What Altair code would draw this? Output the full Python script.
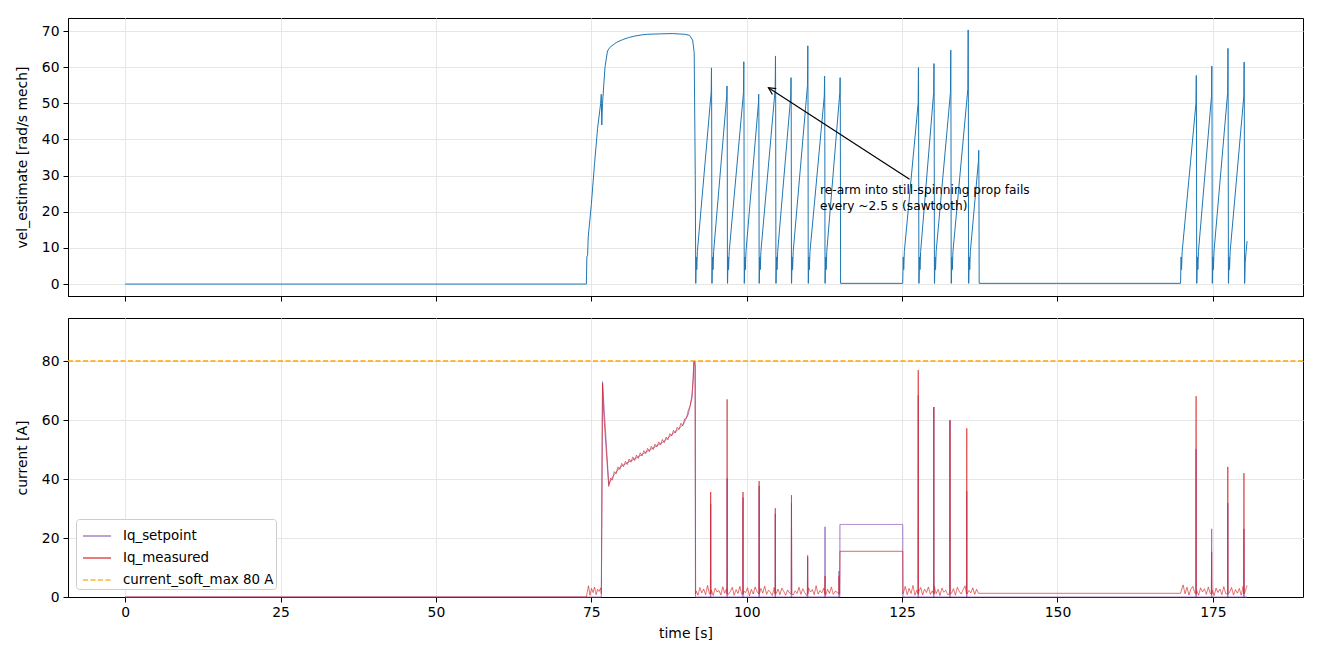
import numpy as np
import pandas as pd
import altair as alt

alt.data_transformers.disable_max_rows()

FONT = "DejaVu Sans"

# -----------------------------
# Top panel: vel_estimate
# -----------------------------
# spin-up and plateau
vel_t = [0, 74.2, 74.28, 74.4, 74.5, 75.0, 75.5, 76.0, 76.5, 76.6, 76.68, 76.8, 77.2, 77.6,
         78.0, 79.0, 80.0, 81.0, 82.0, 83.0, 84.0, 86.0, 88.0, 90.0, 90.8, 91.3, 91.55, 91.72]
vel_v = [0, 0, 7.5, 8.0, 13.0, 22.0, 33.0, 43.0, 50.0, 52.5, 44.0, 50.0, 60.0, 64.5,
         65.5, 66.8, 67.6, 68.2, 68.6, 68.9, 69.1, 69.2, 69.3, 69.1, 68.8, 67.5, 64.0, 30.0]

# sawtooth teeth: start, reset, ramp top, spike peak
tooth_start = [91.8, 94.42, 96.92, 99.62, 102.02, 104.72, 107.22, 109.92, 112.62,
               125.1, 127.72, 130.22, 132.92, 135.72,
               169.8, 172.42, 174.92, 177.52]
tooth_end = [94.4, 96.9, 99.6, 102.0, 104.7, 107.2, 109.9, 112.6, 115.1,
             127.7, 130.2, 132.9, 135.7, 137.4,
             172.4, 174.9, 177.5, 180.1]
tooth_top = [53, 52, 53, 50, 54, 52, 55, 52, 53,
             50, 53, 53, 54, 34,
             50, 52, 53, 52]
tooth_peak = [59.8, 54.8, 61.5, 52.5, 63.1, 57.1, 65.9, 57.5, 57.1,
              59.9, 61.0, 64.7, 70.3, 37.0,
              57.7, 60.3, 65.2, 61.4]

vel_tail_t = [180.12, 180.2, 180.35, 180.5]
vel_tail_v = [0.2, 6.0, 9.0, 11.9]

# -----------------------------
# Bottom panel: currents
# -----------------------------
sp_t = [0, 76.6, 76.8, 77.8, 78.5, 79.6, 81.0, 82.3, 83.5, 85.0, 86.5, 87.7, 88.8, 89.8,
        90.6, 91.2, 91.5, 91.7, 91.75, 114.97, 115.0, 125.1, 125.13, 180.5]
sp_v = [0, 0, 73.0, 38.2, 41.0, 44.0, 45.8, 47.2, 48.8, 50.6, 52.5, 54.6, 56.5, 58.5,
        62.0, 67.6, 79.4, 80.0, 0, 0, 24.6, 24.6, 0, 0]

spike_t = [94.2, 96.85, 99.4, 102.0, 104.6, 107.2, 109.8, 112.6, 114.85,
           127.6, 130.1, 132.7, 135.4, 172.3, 174.8, 177.4, 180.0]
spike_sp = [31.6, 40.2, 33.7, 37.6, 28.2, 31.8, 13.4, 23.8, 8.8,
            68.4, 64.4, 59.9, 35.9, 50.1, 23.1, 31.8, 23.1]
spike_ms = [35.6, 67.0, 35.6, 39.3, 30.1, 34.5, 14.1, 7.1, 7.0,
            76.9, 64.4, 59.9, 57.2, 68.1, 15.3, 44.1, 42.0]

ms_t = [0, 74.2, 76.62, 76.8, 77.0, 91.4, 91.5, 91.7, 91.78,
        114.95, 115.0, 125.1, 125.13, 137.4, 169.8]
ms_v = [0, 0, 1.0, 72.5, 62.0, 74.0, 80.0, 78.5, 1.0,
        1.0, 15.5, 15.5, 1.0, 1.25, 1.25]

# measured noise, read as samples over each segment
noise_a = [1.2, 3.8, 0.6, 2.9, 1.5, 3.4, 0.8, 2.6, 1.9, 3.1]
ramp_ms = [37.5, 40.3, 39.6, 42.5, 41.8, 44.1, 43.2, 45.3, 44.2, 46.0,
           44.9, 46.8, 45.7, 47.5, 46.3, 48.1, 47.0, 48.9, 47.8, 49.6,
           48.6, 50.4, 49.3, 51.1, 50.0, 51.8, 50.9, 52.6, 51.6, 53.4,
           52.3, 54.2, 53.3, 55.4, 54.6, 56.5, 55.6, 57.6, 56.8, 58.9,
           58.0, 60.4, 60.7, 63.3, 64.9, 68.5]
noise_b = [2.1, 0.6, 3.2, 1.4, 2.7, 0.8, 3.9, 1.1, 2.4, 0.5,
           3.0, 1.7, 2.2, 0.7, 3.5, 1.3, 2.8, 0.9, 1.9, 3.3,
           0.6, 2.5, 1.2, 3.6, 0.8, 2.0, 1.5, 3.1, 0.4, 2.6,
           1.0, 3.4, 1.8, 0.7, 2.9, 1.3, 3.7, 0.9, 2.3, 1.6,
           0.5, 3.2, 1.1, 2.7, 0.8, 3.0, 1.9, 0.6, 2.4, 1.4,
           3.5, 0.7, 2.1, 1.2, 3.3, 0.9, 2.8, 1.5, 0.5, 3.1,
           1.7, 2.5, 0.8, 3.8, 1.0, 2.2, 1.4, 3.0, 0.6, 2.6,
           1.2, 3.4, 0.9, 2.0, 1.6, 2.9]
noise_c = [1.4, 3.6, 0.8, 2.9, 1.2, 3.9, 0.6, 2.4, 1.8, 3.2,
           0.7, 2.7, 1.5, 3.4, 0.9, 2.1, 3.7, 1.1, 2.6, 0.5,
           3.0, 1.6, 2.3, 0.8, 3.5, 1.3, 2.8, 0.6, 3.3, 1.9,
           1.0, 2.5, 3.8, 0.7, 2.2, 1.4, 3.1, 0.9, 2.6, 1.2]
noise_d = [2.0, 4.1, 1.1, 3.3, 0.7, 2.6, 3.6, 1.4, 2.2, 0.6,
           3.1, 1.7, 2.8, 0.9, 3.4, 1.2, 2.4, 0.5, 3.0, 1.5,
           2.7, 0.8, 3.5, 1.1, 2.1, 1.6, 3.2, 0.7, 2.5, 1.3,
           2.9, 0.6, 3.7, 1.8, 3.9]
noise_spans = [(74.3, 76.5, noise_a), (77.8, 91.2, ramp_ms), (91.85, 114.85, noise_b),
               (125.2, 137.3, noise_c), (169.9, 180.5, noise_d)]

SERIES = ["Iq_setpoint", "Iq_measured", "current_soft_max 80 A"]
SERIES_COLORS = ["#9467bd", "#d62728", "#ffa500"]
SOFT_MAX = 80

X_TICKS = [0, 25, 50, 75, 100, 125, 150, 175]


# -----------------------------
# Helpers
# -----------------------------
def _tooth(t0, t1, top, peak):
    return [(t0, 0.2), (t0 + 0.08, 7.5), (t0 + 0.16, 4.0), (t0 + 0.26, 9.0),
            (t1 - 0.12, top), (t1 - 0.07, peak), (t1 - 0.04, top - 4), (t1, 0.2)]


def _spikes(times, heights, base):
    rows = []
    for t, h in zip(times, heights):
        rows += [(t - 0.04, base), (t, h), (t + 0.04, base)]
    return rows


def vel_frame():
    pts = list(zip(vel_t, vel_v))
    for a, b, top, pk in zip(tooth_start, tooth_end, tooth_top, tooth_peak):
        pts += _tooth(a, b, top, pk)
    pts += list(zip(vel_tail_t, vel_tail_v))
    return pd.DataFrame(pts, columns=["t", "v"]).sort_values("t")


def setpoint_frame():
    pts = list(zip(sp_t, sp_v)) + _spikes(spike_t, spike_sp, 0.0)
    d = pd.DataFrame(pts, columns=["t", "v"]).sort_values("t")
    d["series"] = SERIES[0]
    return d


def measured_frame():
    noise = []
    for a, b, vals in noise_spans:
        noise += list(zip(np.linspace(a, b, len(vals)), vals))
    st = np.array(spike_t)
    noise = [(t, v) for t, v in noise if np.min(np.abs(st - t)) > 0.06]
    pts = list(zip(ms_t, ms_v)) + noise + _spikes(spike_t, spike_ms, 1.0)
    d = pd.DataFrame(pts, columns=["t", "v"]).sort_values("t")
    d["series"] = SERIES[1]
    return d


# -----------------------------
# Charts
# -----------------------------
x_scale = alt.Scale(domain=[-9.2, 189.5], nice=False, zero=False)
top_y_scale = alt.Scale(domain=[-3.3, 73.6], nice=False, zero=False)
top_x_axis = alt.Axis(values=X_TICKS, labels=False, title=None)
top_y_axis = alt.Axis(values=[0, 10, 20, 30, 40, 50, 60, 70], title="vel_estimate [rad/s mech]")

x_top = alt.X("t:Q", scale=x_scale, axis=top_x_axis)
y_top = alt.Y("v:Q", scale=top_y_scale, axis=top_y_axis)

top_line = alt.Chart(vel_frame()).mark_line(color="#1f77b4", strokeWidth=1).encode(x=x_top, y=y_top)

arrow_df = pd.DataFrame({"t": [126.2], "v": [29.0], "t2": [103.5], "v2": [54.3]})
arrow = alt.Chart(arrow_df).mark_rule(color="black", strokeWidth=1.2).encode(
    x=x_top, y=y_top, x2="t2:Q", y2="v2:Q"
)
head = alt.Chart(arrow_df).mark_point(
    shape="M -0.55 1.1 L 0 0 L 0.55 1.1", filled=False, size=160, angle=303,
    color="black", strokeWidth=1.2, opacity=1
).encode(
    x=alt.X("t2:Q", scale=x_scale, axis=top_x_axis),
    y=alt.Y("v2:Q", scale=top_y_scale, axis=top_y_axis),
)

note_df = pd.DataFrame({"t": [111.8], "v": [27.6],
                        "label": ["re-arm into still-spinning prop fails\nevery ~2.5 s (sawtooth)"]})
note = alt.Chart(note_df).mark_text(
    align="left", baseline="top", lineBreak="\n", fontSize=12.2, lineHeight=16,
    font=FONT, color="black"
).encode(x=x_top, y=y_top, text="label:N")

top = (top_line + arrow + head + note).properties(width=1235, height=278)

legend = alt.Legend(
    orient="bottom-left", offset=8, fillColor="white", strokeColor="#cccccc",
    cornerRadius=3, padding=2, symbolOffset=4, symbolType="stroke", symbolSize=784,
    symbolStrokeWidth=1.5, labelFontSize=13.4, labelFont=FONT, labelColor="black",
    rowPadding=0, labelOffset=11,
)
color = alt.Color("series:N", scale=alt.Scale(domain=SERIES, range=SERIES_COLORS),
                  legend=legend, title=None)
dash = alt.StrokeDash("series:N", scale=alt.Scale(domain=SERIES, range=[[1, 0], [1, 0], [5, 2.5]]),
                      legend=legend, title=None)

x_bot = alt.X("t:Q", scale=x_scale,
              axis=alt.Axis(values=X_TICKS, title="time [s]", labelPadding=3, titlePadding=8))
y_bot = alt.Y("v:Q", scale=alt.Scale(domain=[0, 94.6], nice=False, zero=False),
              axis=alt.Axis(values=[0, 20, 40, 60, 80], title="current [A]"))

sp_line = (
    alt.Chart(setpoint_frame())
    .mark_line(strokeWidth=0.9)
    .encode(x=x_bot, y=y_bot, color=color, strokeDash=dash)
)
ms_line = (
    alt.Chart(measured_frame())
    .mark_line(strokeWidth=0.9, opacity=0.8)
    .encode(x=x_bot, y=y_bot, color=color, strokeDash=dash)
)
max_rule = (
    alt.Chart(pd.DataFrame({"v": [SOFT_MAX], "series": [SERIES[2]]}))
    .mark_rule(strokeWidth=1.4)
    .encode(y=y_bot, color=color, strokeDash=dash)
)

bottom = (sp_line + ms_line + max_rule).properties(width=1235, height=279)

chart = (
    alt.vconcat(top, bottom, spacing=22, bounds="flush")
    .resolve_legend(color="independent", strokeDash="independent")
    .properties(padding={"left": 6, "top": 9, "right": 5, "bottom": 5})
    .configure(background="white")
    .configure_view(stroke="black", strokeWidth=1)
    .configure_axis(
        labelFont=FONT, titleFont=FONT, labelFontSize=13.9, titleFontSize=13.9,
        labelColor="black", titleColor="black", titleFontWeight="normal",
        domainColor="black", tickColor="black", tickSize=5, labelPadding=4,
        gridColor="#e6e6e6", gridWidth=1, titlePadding=12,
    )
)

chart.save("out.html", embed_options={"renderer": "svg", "actions": False})
